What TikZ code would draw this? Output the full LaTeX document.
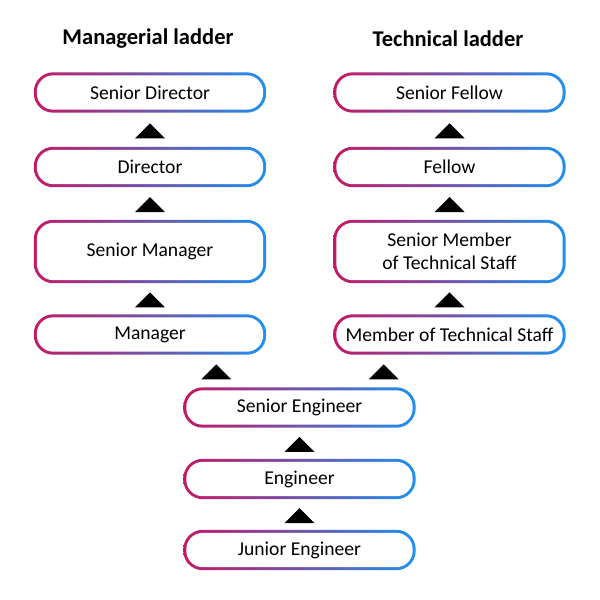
\documentclass[tikz,border=0pt]{standalone}
\usepackage{fontspec}
\setmainfont{Carlito}
\usetikzlibrary{calc,backgrounds}
\definecolor{gmag}{RGB}{196,24,100}
\definecolor{gpur}{RGB}{75,40,205}
\definecolor{gblu}{RGB}{30,144,240}
\begin{document}
\begin{tikzpicture}[x=1pt,y=-1pt,
  lbox/.style={minimum width=232pt, minimum height=40pt, inner sep=0pt, align=center,
    font=\fontsize{19.6}{22.5}\selectfont},
  tall/.style={lbox, minimum height=63pt},
  ttl/.style={font=\fontsize{22.5}{26}\selectfont\bfseries},
  tri/.style={fill=black}]
\useasboundingbox (0,0) rectangle (600,600);
% titles
\node[ttl] (tm) at (148,39) {Managerial ladder};
\node[ttl] (tt) at (448,39) {Technical ladder};
% managerial ladder
\node[lbox] (sd) at (150,92.5) {Senior Director};
\node[lbox] (d) at (150,167) {Director};
\node[tall] (sm) at (150,251.5) {Senior Manager};
\node[lbox] (m) at (150,334.5) {Manager};
% technical ladder
\node[lbox] (sf) at (449.5,92.5) {Senior Fellow};
\node[lbox] (f) at (449.5,167) {Fellow};
\node[tall] (smts) at (449.5,251.5) {Senior Member\\of Technical Staff};
\node[lbox] (mts) at (449.5,334.5) {Member of Technical Staff};
% common trunk
\node[lbox] (se) at (299.5,407.5) {Senior Engineer};
\node[lbox] (e) at (299.5,479) {Engineer};
\node[lbox] (je) at (299.5,550) {Junior Engineer};
% gradient borders
\begin{scope}[on background layer]
  \fill[white] (0,0) rectangle (600,600);
  \foreach \n in {sd,d,sm,m,sf,f,smts,mts,se,e,je} {
    \shade[left color=gmag, middle color=gpur, right color=gblu, rounded corners=19.5pt]
      (\n.south west) rectangle (\n.north east);
    \fill[white, rounded corners=16.5pt]
      ([shift={(3pt,3pt)}]\n.south west) rectangle ([shift={(-3pt,-3pt)}]\n.north east);
  }
\end{scope}
% triangles
\foreach \lo/\hi in {d/sd, sm/d, m/sm, f/sf, smts/f, mts/smts, e/se, je/e}
  \fill[tri] ($(\lo.north)!0.5!(\hi.south)$) ++(-15,8.5) -- ++(30,0) -- ++(-15,-15) -- cycle;
\fill[tri] ($(se.north west)+(18,-8)$) -- ++(30,0) -- ++(-15,-15) -- cycle;
\fill[tri] ($(se.north east)+(-47,-8)$) -- ++(30,0) -- ++(-15,-15) -- cycle;
\end{tikzpicture}
\end{document}
